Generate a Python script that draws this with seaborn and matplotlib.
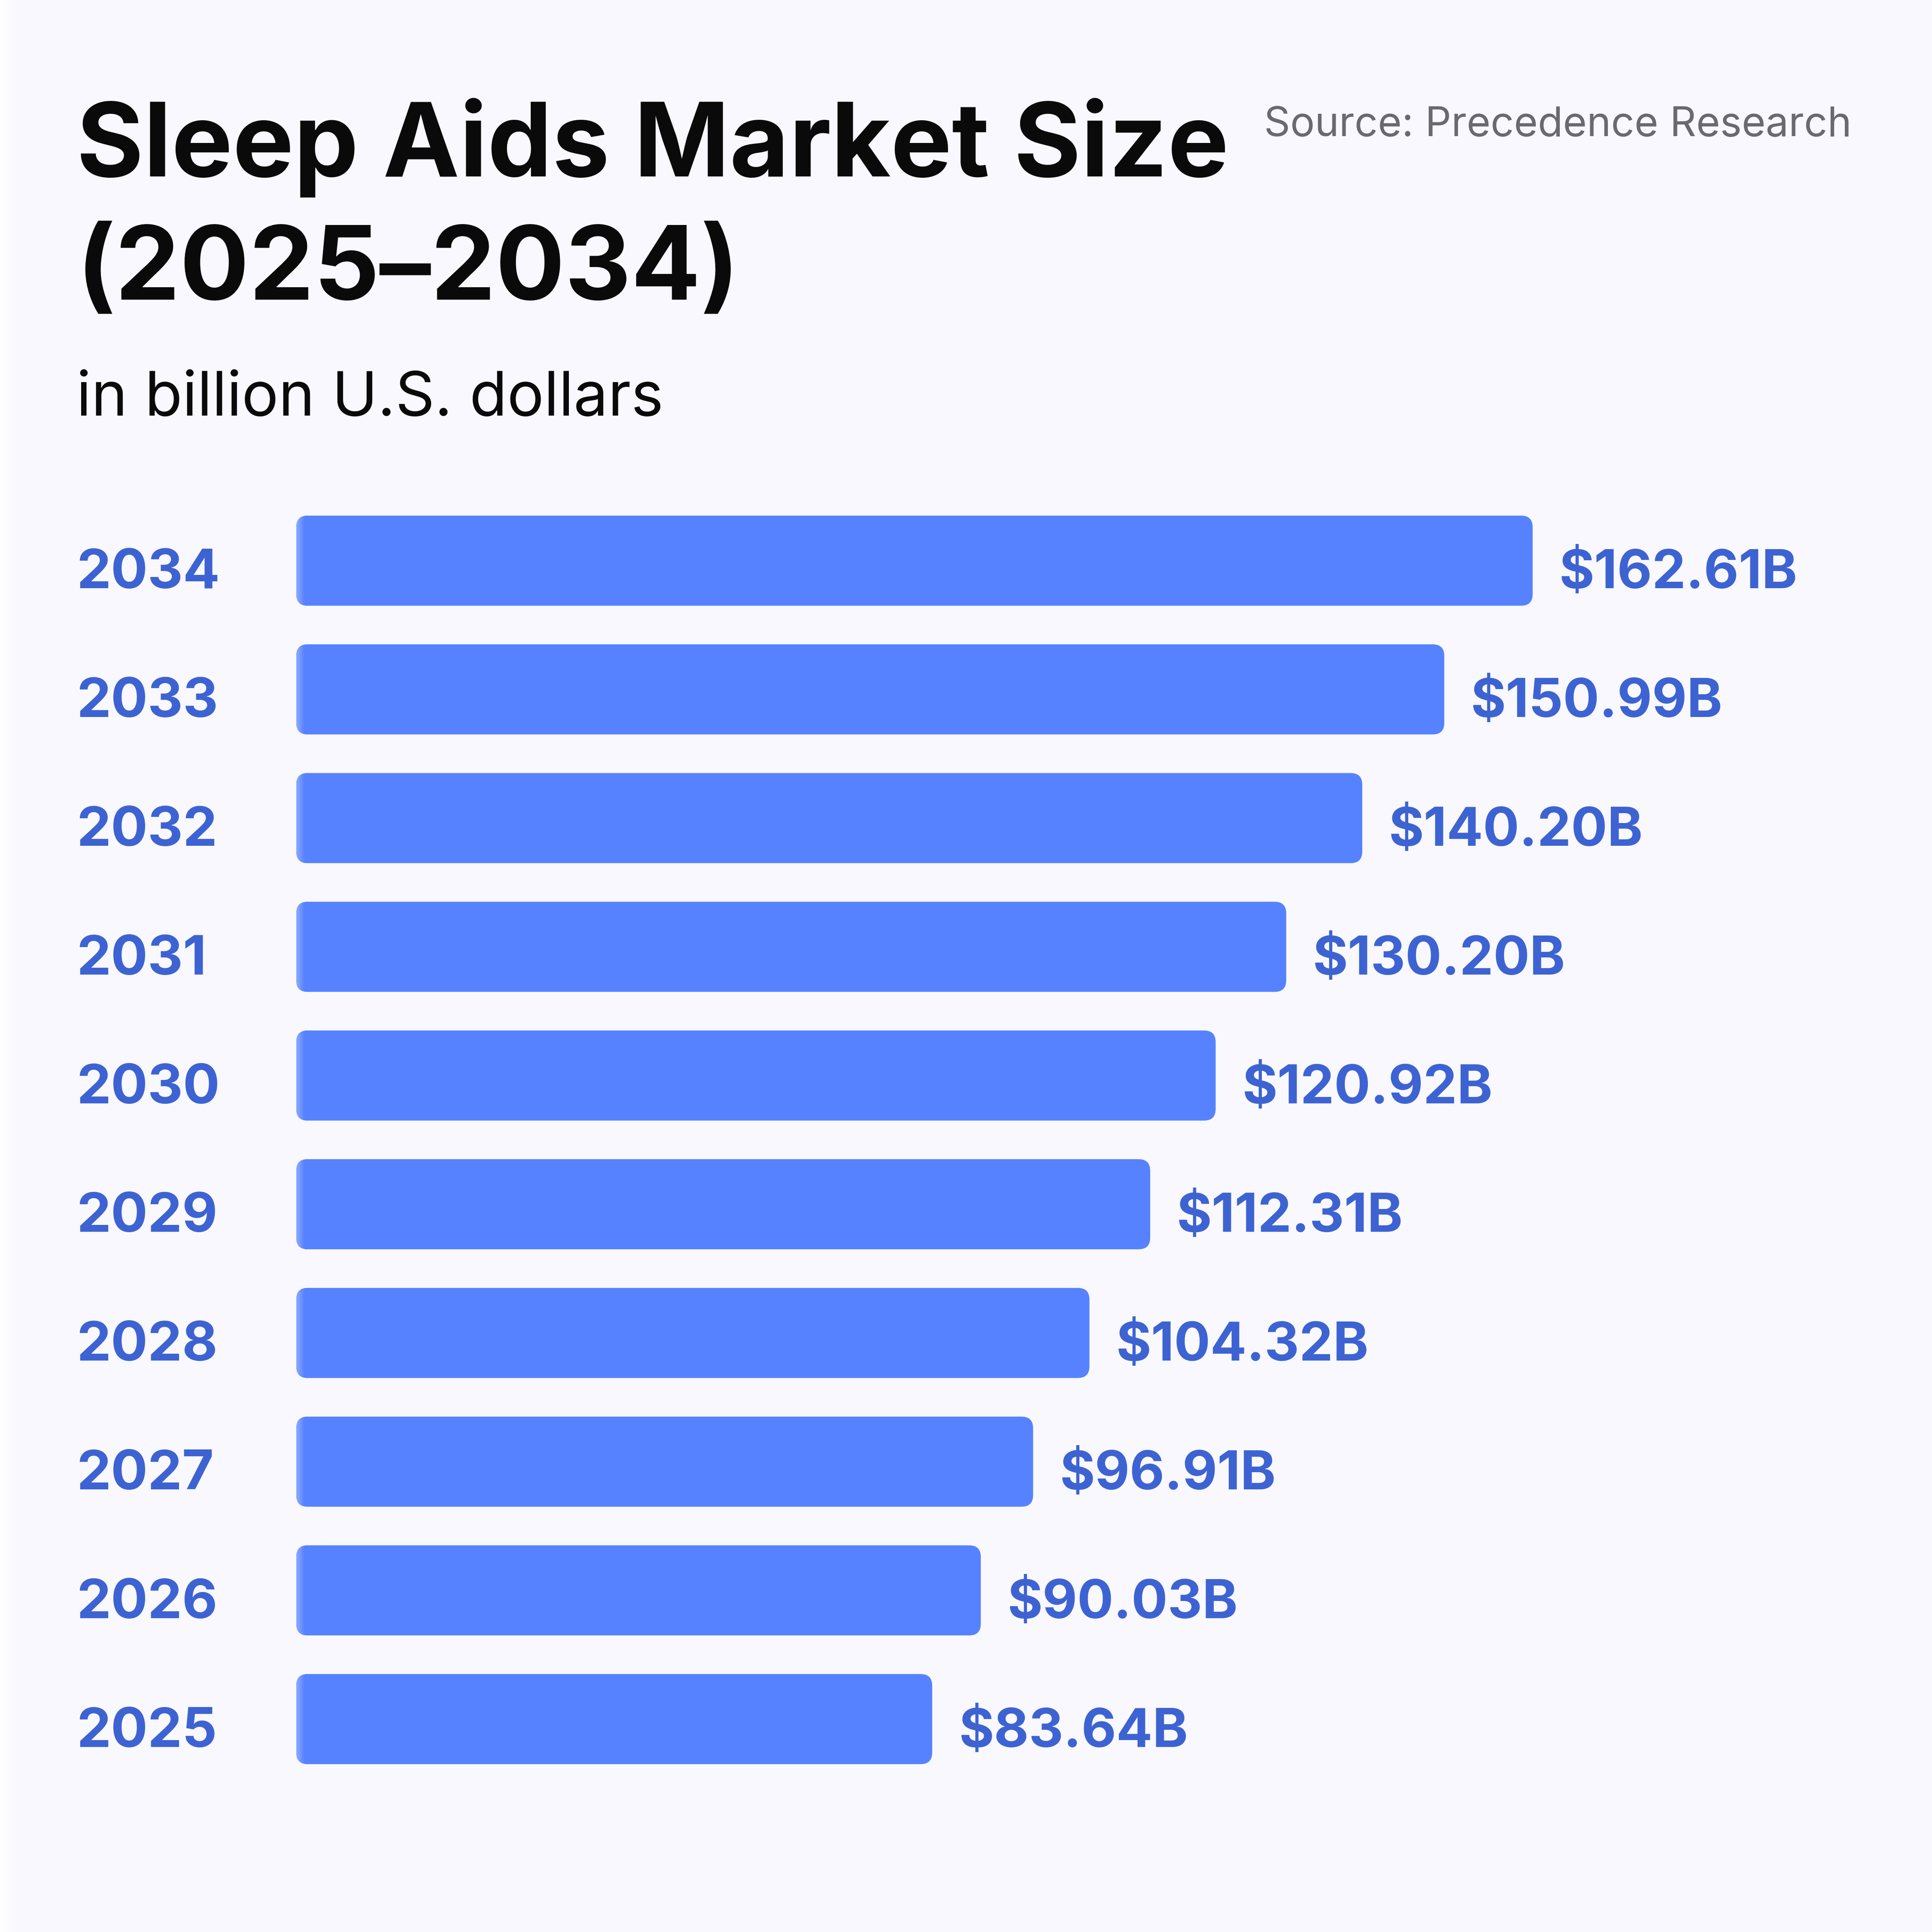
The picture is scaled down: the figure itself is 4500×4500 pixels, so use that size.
import numpy as np
import pandas as pd
import seaborn as sns
import matplotlib.pyplot as plt
from matplotlib.patches import FancyBboxPatch
from matplotlib.colors import LinearSegmentedColormap
from matplotlib.transforms import blended_transform_factory

# Data
years = ["2034", "2033", "2032", "2031", "2030", "2029", "2028", "2027", "2026", "2025"]
market_size = [162.61, 150.99, 140.20, 130.20, 120.92, 112.31, 104.32, 96.91, 90.03, 83.64]
value_labels = ["$162.61B", "$150.99B", "$140.20B", "$130.20B", "$120.92B",
                "$112.31B", "$104.32B", "$96.91B", "$90.03B", "$83.64B"]

df = pd.DataFrame({"year": years, "size": market_size})

BG = "#F8F8FE"
BAR = "#5682FF"
LABEL = "#3D63D3"

sns.set_theme(style="white")
plt.rcParams["font.family"] = ["Inter", "DejaVu Sans"]

fig = plt.figure(figsize=(15, 15), dpi=300, facecolor=BG)

# faint white fade along the left edge
edge = fig.add_axes([0, 0, 0.01, 1])
edge.imshow(np.linspace(0, 1, 50).reshape(1, -1), aspect="auto",
            cmap=LinearSegmentedColormap.from_list("edge", ["#FFFFFF", BG]),
            extent=[0, 1, 0, 1])
edge.axis("off")

ax = fig.add_axes([690 / 4500, 1 - 4154 / 4500, 200 * 17.71 / 4500, 2998 / 4500])
ax.set_facecolor(BG)

sns.barplot(data=df, y="year", x="size", order=years, color=BAR,
            width=0.7, saturation=1, ax=ax)

# swap the plain bars for rounded ones with a light left edge
grad_cmap = LinearSegmentedColormap.from_list("grad", ["#8DAAFF", BAR])
grad = np.concatenate([np.linspace(0, 1, 40), np.ones(10)]).reshape(1, -1)
px_x = 1 / 17.71
px_y = 1 / 300
for bar in list(ax.patches):
    x0, y0 = bar.get_x(), bar.get_y()
    w, h = bar.get_width(), bar.get_height()
    bar.remove()
    rb = FancyBboxPatch((x0, y0), w, h,
                        boxstyle=f"round,pad=0,rounding_size={27 * px_x}",
                        mutation_aspect=px_y / px_x,
                        facecolor=BAR, edgecolor="none", zorder=2)
    ax.add_patch(rb)
    im = ax.imshow(grad, cmap=grad_cmap, aspect="auto", zorder=3,
                   extent=[x0, x0 + 25 * px_x, y0 + h, y0])
    im.set_clip_path(rb)

ax.set_xlim(0, 200)
ax.set_ylim(9.5, -0.5)

# value labels and year labels
for i, (v, lab) in enumerate(zip(market_size, value_labels)):
    ax.text(v + 62 * px_x, i + 0.215, lab, ha="left", va="baseline",
            fontsize=30, fontweight="bold", color=LABEL)

trans = blended_transform_factory(fig.transFigure, ax.transData)
for i, yr in enumerate(years):
    ax.text(178 / 4500, i + 0.215, yr, transform=trans, ha="left", va="baseline",
            fontsize=30.5, fontweight="bold", color=LABEL)

ax.set_xticks([])
ax.set_yticks([])
ax.set_xlabel("")
ax.set_ylabel("")
sns.despine(ax=ax, left=True, bottom=True)

# titles
fig.text(178 / 4500, 1 - 411 / 4500, "Sleep Aids Market Size", ha="left", va="baseline",
         fontsize=57.4, fontweight="bold", color="#0A0A0A")
fig.text(178 / 4500, 1 - 698 / 4500, "(2025\u20132034)", ha="left", va="baseline",
         fontsize=57.4, fontweight="bold", color="#0A0A0A")
fig.text(178 / 4500, 1 - 968 / 4500, "in billion U.S. dollars", ha="left", va="baseline",
         fontsize=34.3, color="#0A0A0A")
fig.text(4313 / 4500, 1 - 317 / 4500, "Source: Precedence Research", ha="right",
         va="baseline", fontsize=22.9, color="#69696F")

fig.savefig("out.png", dpi=300, facecolor=BG)
